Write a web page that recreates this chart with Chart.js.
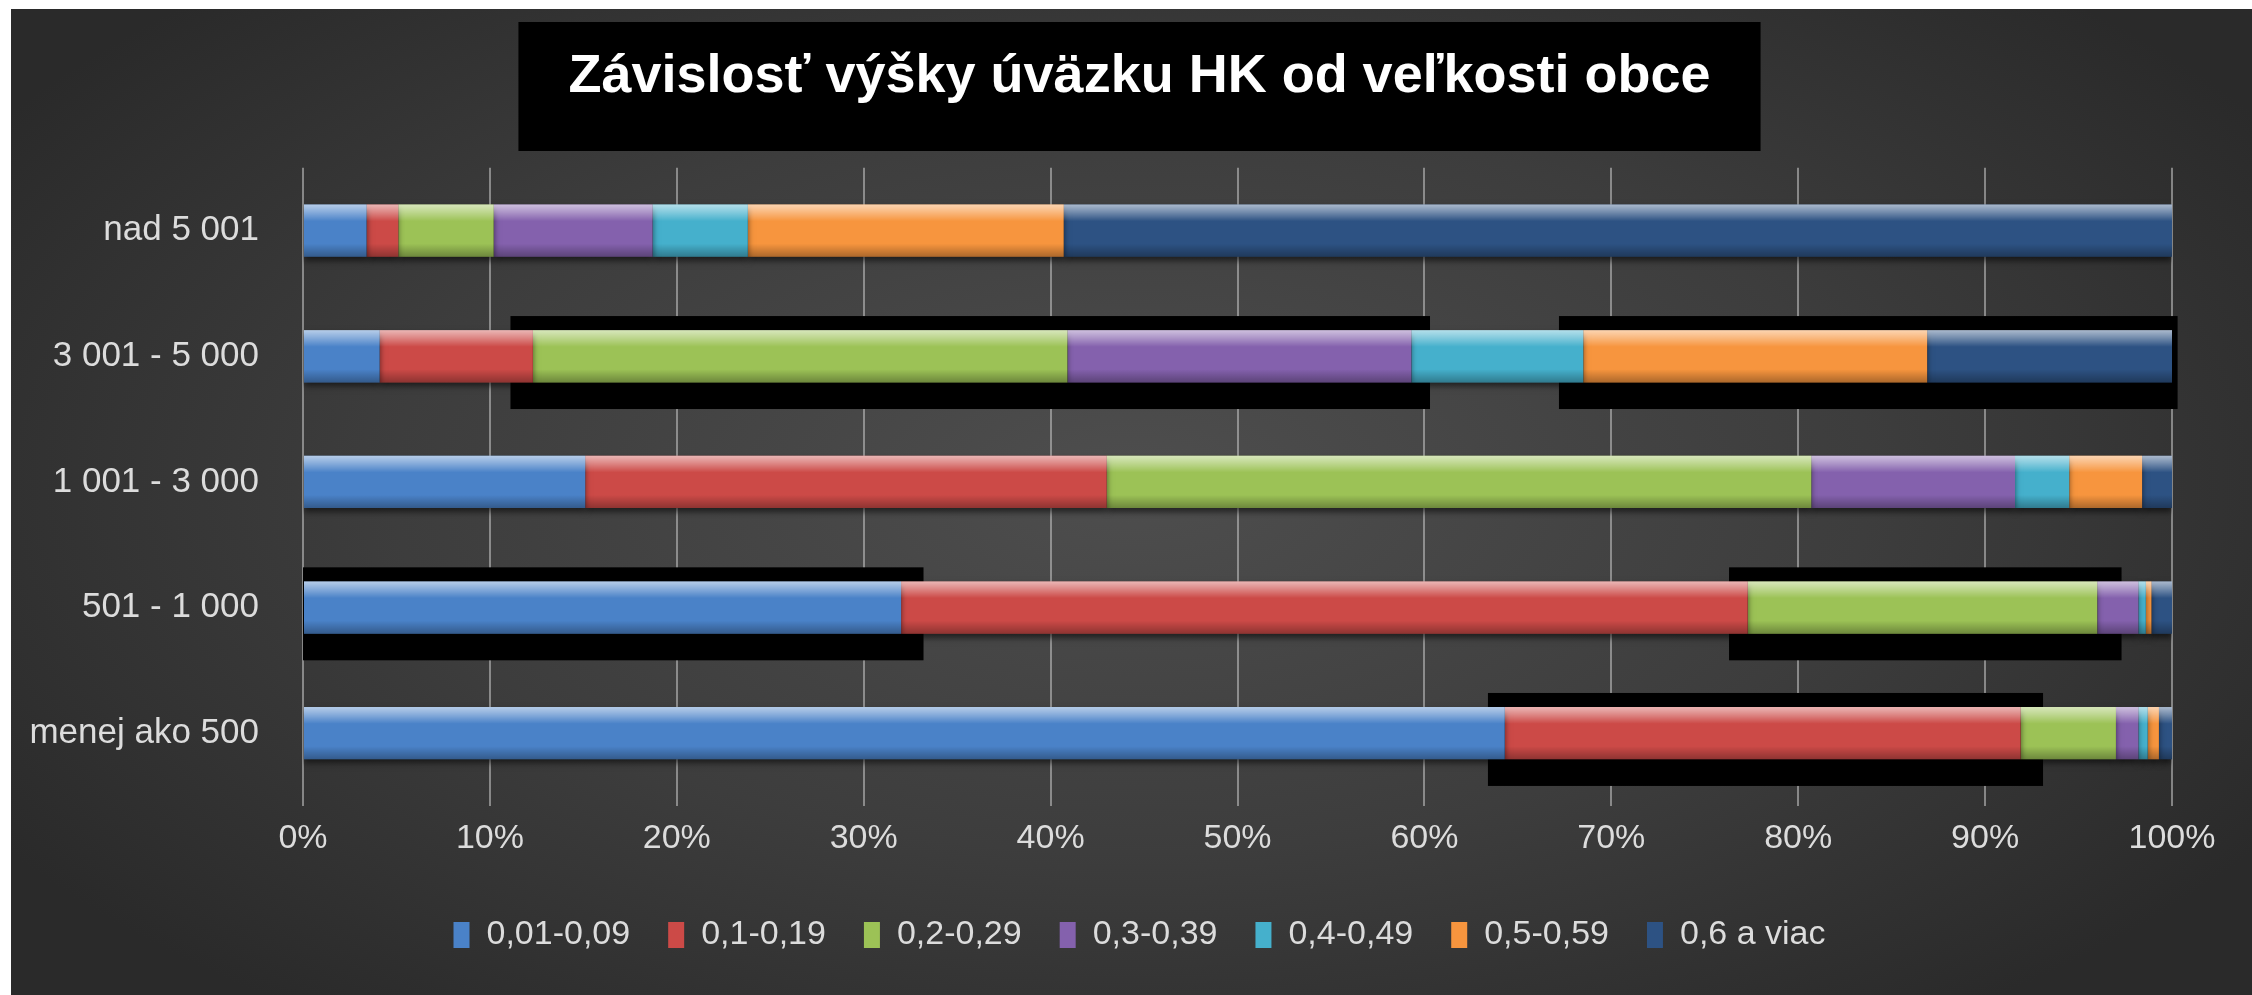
<!DOCTYPE html>
<html>
<head>
<meta charset="utf-8">
<script src="https://cdn.jsdelivr.net/npm/chart.js@4"></script>
<style>
  html, body { margin: 0; padding: 0; background: #ffffff; overflow: hidden; }
  #wrap { position: absolute; left: 11px; top: 9px; width: 2241px; height: 986px; }
</style>
</head>
<body>
<div id="wrap"><canvas id="chart"></canvas></div>
<script>
// data (percent of municipalities in each size group)
const categories = ["nad 5 001", "3 001 - 5 000", "1 001 - 3 000", "501 - 1 000", "menej ako 500"];
const seriesNames = ["0,01-0,09", "0,1-0,19", "0,2-0,29", "0,3-0,39", "0,4-0,49", "0,5-0,59", "0,6 a viac"];
const level1 = [3.4, 4.1, 15.1, 32.0, 64.3];
const level2 = [1.7, 8.2, 27.9, 45.3, 27.6];
const level3 = [5.1, 28.6, 37.7, 18.7, 5.1];
const level4 = [8.5, 18.4, 10.9, 2.2, 1.2];
const level5 = [5.1, 9.2, 2.9, 0.4, 0.5];
const level6 = [16.9, 18.4, 3.9, 0.3, 0.6];
const level7 = [59.3, 13.1, 1.6, 1.1, 0.7];
const xTickLabels = ["0%", "10%", "20%", "30%", "40%", "50%", "60%", "70%", "80%", "90%", "100%"];

const seriesValues = [level1, level2, level3, level4, level5, level6, level7];
const colors = ["#4a82c8", "#cc4a47", "#9cc256", "#8461ad", "#45b0cc", "#f7953e", "#2d5283"];

// black strips that sit behind some of the bars in the original slide
// [row, from %, to %]
const blackStrips = [
  [1, 11.1, 60.3], [1, 67.2, 100.3],
  [3, 0, 33.2], [3, 76.3, 97.3],
  [4, 63.4, 93.1]
];

const FONT = "'Liberation Sans', Arial, sans-serif";

const backdrop = {
  id: "backdrop",
  afterLayout(chart) {
    // let the long category labels use the padding on the left (no clipping)
    chart.scales.y.left = 0;
  },
  beforeDraw(chart) {
    const { ctx, width, height } = chart;
    ctx.save();
    ctx.translate(width * 0.5, height * 0.48);
    ctx.scale(1, 0.5);
    const g = ctx.createRadialGradient(0, 0, 0, 0, 0, width * 0.6);
    g.addColorStop(0, "#4e4e4e");
    g.addColorStop(0.55, "#3d3d3d");
    g.addColorStop(1, "#2a2a2a");
    ctx.fillStyle = g;
    ctx.fillRect(-width, -height * 2, width * 2, height * 4);
    ctx.restore();

    // black box behind the title
    const t = chart.titleBlock;
    if (t) {
      ctx.save();
      ctx.font = "bold 54px " + FONT;
      const tw = ctx.measureText(chart.options.plugins.title.text).width;
      const cx = t.left + t.width / 2;
      ctx.fillStyle = "#000000";
      ctx.fillRect(cx - tw / 2 - 50, 13, tw + 100, 129);
      ctx.restore();
    }
  },
  beforeDatasetsDraw(chart) {
    const { ctx, scales: { x, y } } = chart;
    ctx.save();
    ctx.fillStyle = "#000000";
    blackStrips.forEach(([row, a, b]) => {
      const top = y.getPixelForValue(row - 0.32);
      const bot = y.getPixelForValue(row + 0.42);
      const l = x.getPixelForValue(a);
      const r = x.getPixelForValue(b);
      ctx.fillRect(l, top, r - l, bot - top);
    });
    ctx.restore();
    // soft shadow under the bars
    ctx.save();
    ctx.shadowColor = "rgba(0,0,0,0.55)";
    ctx.shadowOffsetY = 4;
    ctx.shadowBlur = 6;
  },
  afterDatasetsDraw(chart) {
    const ctx = chart.ctx;
    ctx.restore();
    // glossy bevel on each bar segment
    ctx.save();
    chart.data.datasets.forEach((ds, i) => {
      chart.getDatasetMeta(i).data.forEach((bar) => {
        const p = bar.getProps(["x", "y", "base", "height"], true);
        const l = Math.min(p.x, p.base), r = Math.max(p.x, p.base);
        const w = r - l;
        if (w < 0.5) return;
        const top = p.y - p.height / 2, h = p.height;
        const g = ctx.createLinearGradient(0, top, 0, top + h);
        g.addColorStop(0, "rgba(255,255,255,0.6)");
        g.addColorStop(0.14, "rgba(255,255,255,0.35)");
        g.addColorStop(0.32, "rgba(255,255,255,0.0)");
        g.addColorStop(0.75, "rgba(0,0,0,0.0)");
        g.addColorStop(1, "rgba(0,0,0,0.3)");
        ctx.fillStyle = g;
        ctx.fillRect(l, top, w, h);
      });
    });
    ctx.restore();
  }
};

new Chart(document.getElementById("chart"), {
  type: "bar",
  data: {
    labels: categories,
    datasets: seriesNames.map((name, i) => ({
      label: name,
      data: seriesValues[i],
      backgroundColor: colors[i],
      borderWidth: 0,
      barPercentage: 0.416,
      categoryPercentage: 1
    }))
  },
  options: {
    indexAxis: "y",
    responsive: true,
    maintainAspectRatio: false,
    animation: false,
    layout: { padding: { left: 96, right: 80, top: 0, bottom: 33 } },
    scales: {
      x: {
        stacked: true,
        min: 0,
        max: 100,
        ticks: {
          stepSize: 10,
          color: "#dcdcdc",
          font: { family: FONT, size: 34 },
          padding: 12,
          callback: (v, i) => xTickLabels[i]
        },
        grid: { color: "rgba(190,190,190,0.6)", lineWidth: 2, tickLength: 10 },
        border: { display: false },
        afterFit: (s) => { s.height = 84; }
      },
      y: {
        stacked: true,
        ticks: {
          color: "#dcdcdc",
          font: { family: FONT, size: 35 },
          padding: 44
        },
        grid: { display: false, drawTicks: false },
        border: { display: false },
        afterFit: (s) => { s.width = 196; }
      }
    },
    plugins: {
      title: {
        display: true,
        text: "Závislosť výšky úväzku HK od veľkosti obce",
        color: "#ffffff",
        font: { family: FONT, size: 54, weight: "bold" },
        padding: { top: 36, bottom: 58 }
      },
      legend: {
        position: "bottom",
        labels: {
          color: "#dcdcdc",
          font: { family: FONT, size: 34 },
          boxWidth: 16,
          boxHeight: 26,
          padding: 38
        }
      },
      tooltip: { enabled: false }
    }
  },
  plugins: [backdrop]
});
</script>
</body>
</html>
